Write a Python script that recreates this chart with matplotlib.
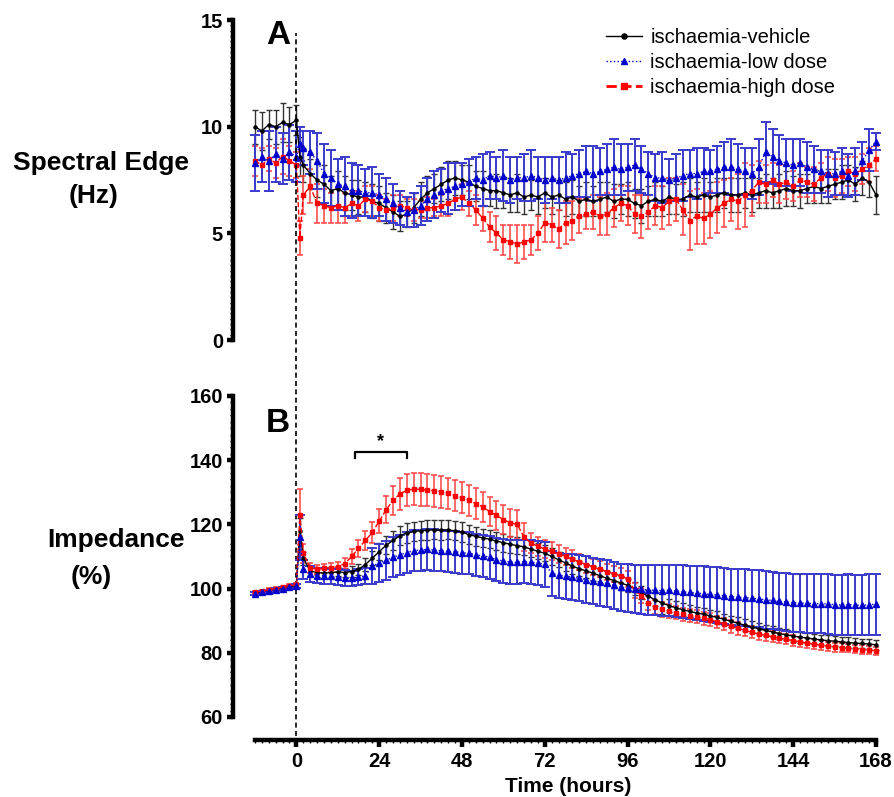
import numpy as np
import matplotlib
matplotlib.use("Agg")
import matplotlib.pyplot as plt
from matplotlib.lines import Line2D
from matplotlib.ticker import MultipleLocator

plt.rcParams["font.family"] = ["Liberation Sans", "DejaVu Sans"]

# ── data: hours relative to ischaemia, means and SEM ─────────────────────────
hours = list(range(-12, 1, 2)) + [1] + list(range(2, 169, 2))

labels = ["ischaemia-vehicle", "ischaemia-low dose", "ischaemia-high dose"]

# Panel A: spectral edge (Hz)
se_vehicle = [10.0, 9.8, 10.1, 10.0, 10.2, 10.1, 10.3,
              8.6,
              8.2, 7.8, 7.5, 7.3, 7.0, 7.1, 6.9, 6.8, 6.7, 6.7, 6.5, 6.4,
              6.2, 6.0, 5.8, 5.9, 6.2, 6.6, 6.9, 7.1, 7.3, 7.5, 7.6, 7.5,
              7.4, 7.2, 7.1, 7.0, 7.0, 6.9, 6.8, 6.9, 6.7, 6.8, 6.7, 6.9,
              6.7, 6.8, 6.6, 6.7, 6.5, 6.6, 6.5, 6.6, 6.7, 6.5, 6.6, 6.6,
              6.4, 6.3, 6.5, 6.6, 6.5, 6.7, 6.6, 6.6, 6.8, 6.7, 6.8, 6.7,
              6.8, 6.9, 6.8, 6.8, 6.9, 6.8, 6.9, 7.0, 6.9, 7.0, 7.1, 7.0,
              7.0, 7.1, 7.2, 7.1, 7.2, 7.3, 7.4, 7.5, 7.3, 7.6, 7.4, 6.8]
se_vehicle_err = [0.8, 0.9, 0.7, 0.8, 0.9, 0.8, 0.7,
                  0.9,
                  0.8, 0.7, 0.8, 0.9, 0.7, 0.8, 0.8, 0.7, 0.8, 0.7, 0.8, 0.8,
                  0.7, 0.8, 0.7, 0.6, 0.7, 0.8, 0.8, 0.7, 0.8, 0.9, 0.8, 0.7,
                  0.8, 0.7, 0.8, 0.7, 0.8, 0.7, 0.8, 0.9, 0.8, 0.7, 0.8, 0.7,
                  0.8, 0.7, 0.8, 0.8, 0.7, 0.8, 0.7, 0.8, 0.7, 0.8, 0.7, 0.8,
                  0.7, 0.8, 0.7, 0.8, 0.7, 0.8, 0.7, 0.8, 0.8, 0.7, 0.8, 0.7,
                  0.8, 0.7, 0.8, 0.8, 0.7, 0.8, 0.7, 0.8, 0.7, 0.8, 0.8, 0.7,
                  0.8, 0.7, 0.8, 0.7, 0.8, 0.7, 0.8, 0.7, 0.8, 0.8, 0.7, 0.9]

se_low = [8.3, 8.6, 8.4, 8.7, 8.5, 8.8, 8.6,
          9.2,
          9.0, 8.8, 8.4, 7.8, 7.6, 7.3, 7.2, 7.0, 7.0, 6.9, 6.9, 6.8,
          6.6, 6.4, 6.2, 6.0, 6.1, 6.3, 6.6, 6.8, 7.0, 7.1, 7.2, 7.3,
          7.4, 7.6, 7.5, 7.7, 7.6, 7.7, 7.5, 7.6, 7.6, 7.7, 7.6, 7.5,
          7.6, 7.5, 7.6, 7.7, 7.8, 7.9, 7.8, 7.9, 8.0, 8.1, 8.0, 8.1,
          8.2, 8.0, 7.8, 7.6, 7.6, 7.5, 7.6, 7.7, 7.8, 7.8, 7.9, 7.9,
          8.0, 8.1, 8.1, 8.0, 7.9, 7.8, 8.1, 8.8, 8.6, 8.4, 8.3, 8.2,
          8.3, 8.1, 8.0, 7.9, 7.8, 7.8, 7.9, 7.7, 7.9, 8.4, 8.9, 9.3]
se_low_err = [1.3, 1.2, 1.4, 1.3, 1.2, 1.3, 1.2,
              0.8,
              0.8, 1.0, 1.3, 1.4, 1.3, 1.2, 1.4, 1.3, 1.2, 1.1, 1.2, 1.0,
              1.0, 0.9, 0.8, 0.7, 0.8, 0.9, 1.0, 1.1, 1.0, 1.2, 1.1, 1.0,
              1.1, 1.0, 1.2, 1.1, 1.0, 1.2, 1.1, 1.0, 1.1, 1.2, 1.0, 1.1,
              1.0, 1.1, 1.2, 1.0, 1.1, 1.2, 1.3, 1.1, 1.2, 1.3, 1.2, 1.1,
              1.2, 1.1, 1.0, 1.1, 1.2, 1.0, 1.1, 1.2, 1.1, 1.2, 1.1, 1.0,
              1.1, 1.2, 1.3, 1.2, 1.1, 1.2, 1.3, 1.4, 1.3, 1.2, 1.1, 1.2,
              1.1, 1.2, 1.1, 1.0, 1.1, 1.0, 1.1, 1.0, 1.1, 0.9, 1.0, 0.4]

se_high = [8.4, 8.2, 8.5, 8.3, 8.6, 8.4, 8.2,
           4.8,
           6.8, 7.2, 6.4, 6.3, 6.2, 6.3, 6.2, 6.4, 6.3, 6.6, 6.5, 6.2,
           6.1, 6.2, 6.3, 6.2, 6.1, 6.1, 6.2, 6.2, 6.3, 6.4, 6.6, 6.7,
           6.4, 6.1, 5.7, 5.3, 5.0, 4.7, 4.6, 4.5, 4.6, 4.7, 5.0, 5.5,
           5.4, 5.2, 5.5, 5.6, 5.8, 5.9, 6.0, 5.8, 5.9, 6.2, 6.4, 6.3,
           5.9, 5.8, 6.0, 6.3, 6.2, 6.5, 6.6, 6.1, 5.6, 5.8, 5.7, 5.9,
           6.2, 6.4, 6.6, 6.5, 6.8, 7.0, 7.4, 7.3, 7.5, 7.3, 7.4, 7.2,
           7.5, 7.4, 7.3, 7.6, 7.8, 7.6, 7.7, 7.9, 7.8, 8.0, 8.2, 8.5]
se_high_err = [0.7, 0.8, 0.6, 0.7, 0.8, 0.7, 0.6,
               0.8,
               0.9, 0.8, 0.9, 0.8, 0.7, 0.8, 0.7, 0.6, 0.7, 0.6, 0.7, 0.6,
               0.5, 0.6, 0.5, 0.4, 0.5, 0.4, 0.5, 0.4, 0.5, 0.6, 0.5, 0.6,
               0.6, 0.7, 0.6, 0.7, 0.8, 0.7, 0.8, 0.9, 0.8, 0.7, 0.8, 0.9,
               0.8, 0.9, 1.0, 0.9, 0.8, 0.7, 0.8, 0.9, 1.0, 0.9, 0.8, 0.9,
               0.9, 1.0, 0.8, 0.9, 1.0, 1.1, 1.0, 1.2, 1.4, 1.3, 1.2, 1.1,
               1.2, 1.1, 1.0, 1.3, 1.5, 1.2, 1.0, 0.9, 0.8, 0.9, 0.8, 0.7,
               0.8, 0.7, 0.8, 0.7, 0.8, 0.9, 0.8, 0.7, 0.8, 0.7, 0.8, 0.6]

# Panel B: impedance (% of baseline)
imp_vehicle = [98.6, 99.0, 99.4, 99.8, 100.2, 100.6, 101.0,
               118.0,
               109.5, 105.5, 105.0, 104.8, 105.0, 105.2, 105.0, 105.3, 106.0, 107.5, 109.5, 111.5,
               113.5, 115.0, 116.5, 117.3, 117.8, 118.0, 118.2, 118.3, 118.2, 118.3, 118.0, 117.6,
               116.8, 116.3, 115.8, 115.4, 114.8, 114.3, 113.8, 113.4, 113.0, 112.3, 111.6, 111.0,
               110.0, 109.0, 108.0, 107.0, 106.2, 105.5, 104.8, 104.0, 103.2, 102.5, 101.8, 101.0,
               100.0, 98.8, 97.6, 96.5, 95.5, 94.7, 94.0, 93.4, 92.9, 92.4, 92.0, 91.5,
               91.0, 90.4, 89.8, 89.2, 88.6, 88.0, 87.5, 87.0, 86.5, 86.0, 85.6, 85.2,
               84.9, 84.6, 84.3, 84.0, 83.8, 83.6, 83.4, 83.2, 83.0, 82.9, 82.7, 82.5]
imp_vehicle_err = [0.4, 0.4, 0.4, 0.4, 0.4, 0.4, 0.4,
                   4.0,
                   2.0, 1.5, 1.5, 1.4, 1.5, 1.4, 1.5, 1.6, 1.8, 2.0, 2.3, 2.6,
                   2.8, 3.0, 3.0, 3.1, 3.0, 3.0, 3.1, 3.0, 3.1, 3.0, 3.0, 3.1,
                   3.0, 3.0, 2.9, 2.9, 2.8, 2.8, 2.7, 2.7, 2.6, 2.6, 2.5, 2.5,
                   2.5, 2.4, 2.4, 2.4, 2.3, 2.3, 2.3, 2.2, 2.2, 2.2, 2.2, 2.1,
                   2.1, 2.1, 2.0, 2.0, 3.5, 2.0, 2.0, 2.0, 1.9, 1.9, 1.9, 1.9,
                   1.9, 1.8, 1.8, 1.8, 1.8, 1.8, 1.7, 1.7, 1.7, 1.7, 1.7, 1.7,
                   1.7, 1.6, 1.6, 1.6, 1.6, 1.6, 1.6, 1.6, 1.5, 1.5, 1.5, 1.5]

imp_low = [98.4, 98.8, 99.2, 99.6, 100.0, 100.4, 100.8,
           116.0,
           106.0, 104.5, 104.0, 104.0, 103.8, 103.5, 103.3, 103.2, 103.5, 104.0, 107.0, 108.0,
           108.8, 109.8, 110.5, 111.2, 111.8, 112.0, 112.2, 112.0, 111.8, 111.6, 111.5, 111.2,
           111.0, 110.5, 110.2, 109.8, 109.0, 108.6, 108.3, 108.2, 108.4, 108.2, 108.0, 107.6,
           104.8, 104.2, 103.8, 103.6, 103.2, 102.8, 102.4, 102.0, 101.6, 101.0, 100.4, 100.2,
           100.0, 99.8, 99.6, 99.5, 99.4, 99.5, 99.3, 99.0, 98.8, 98.6, 98.4, 98.2,
           98.0, 97.8, 97.5, 97.3, 97.2, 97.0, 96.8, 96.5, 96.3, 96.0, 95.8, 95.6,
           95.5, 95.4, 95.3, 95.3, 95.2, 95.0, 94.9, 95.0, 94.9, 94.8, 95.0, 95.1]
imp_low_err = [0.5, 0.5, 0.5, 0.5, 0.5, 0.5, 0.5,
               7.0,
               3.0, 2.5, 2.4, 2.5, 2.4, 2.5, 2.5, 2.4, 2.5, 2.5, 5.5, 5.8,
               6.0, 6.2, 6.3, 6.3, 6.4, 6.4, 6.5, 6.5, 6.4, 6.4, 6.5, 6.5,
               6.5, 6.6, 6.6, 6.7, 6.7, 6.7, 6.8, 6.8, 6.8, 6.9, 6.9, 7.0,
               7.0, 7.0, 7.1, 7.1, 7.2, 7.2, 7.2, 7.3, 7.3, 7.3, 7.4, 7.4,
               7.5, 7.6, 7.7, 7.8, 7.9, 8.0, 8.1, 8.2, 8.3, 8.4, 8.5, 8.6,
               8.6, 8.7, 8.7, 8.8, 8.8, 8.9, 8.9, 9.0, 9.0, 9.0, 9.1, 9.1,
               9.1, 9.2, 9.2, 9.2, 9.3, 9.3, 9.3, 9.4, 9.4, 9.4, 9.5, 9.5]

imp_high = [98.8, 99.2, 99.6, 100.0, 100.4, 100.8, 101.2,
            123.0,
            111.0, 106.5, 106.0, 106.3, 106.5, 106.8, 107.8, 110.0, 112.5, 115.0, 117.5, 121.0,
            124.5, 127.5, 129.5, 130.6, 131.0, 130.9, 130.7, 130.5, 130.2, 129.7, 129.0, 128.3,
            127.5, 126.5, 125.5, 124.0, 122.8, 121.5, 120.5, 120.0, 116.0, 114.2, 113.2, 112.3,
            111.6, 110.8, 110.0, 109.2, 108.3, 107.5, 106.8, 106.0, 105.3, 104.6, 104.0, 103.0,
            99.5, 97.8, 95.5, 94.3, 93.5, 93.0, 92.5, 92.0, 91.6, 91.2, 90.8, 90.3,
            89.6, 88.9, 88.2, 87.6, 87.0, 86.4, 85.9, 85.4, 85.0, 84.6, 84.2, 83.8,
            83.4, 83.0, 82.7, 82.4, 82.1, 81.8, 81.6, 81.4, 81.2, 81.0, 80.8, 80.6]
imp_high_err = [0.5, 0.5, 0.5, 0.5, 0.5, 0.5, 0.5,
                8.0,
                3.0, 1.5, 1.3, 1.3, 1.4, 1.5, 1.8, 2.2, 2.6, 3.0, 3.4, 3.8,
                4.2, 4.6, 4.9, 5.0, 5.1, 5.1, 5.0, 5.0, 5.0, 4.9, 4.8, 4.8,
                4.8, 4.7, 4.6, 4.6, 4.5, 4.5, 4.4, 4.4, 4.3, 3.2, 3.0, 2.9,
                2.8, 2.8, 2.7, 2.7, 2.6, 2.6, 2.5, 2.5, 2.5, 2.4, 2.4, 2.4,
                2.3, 2.3, 2.3, 2.2, 2.2, 2.2, 2.1, 2.1, 2.1, 2.0, 2.0, 2.0,
                2.0, 1.9, 1.9, 1.9, 1.8, 1.8, 1.8, 1.7, 1.7, 1.7, 1.6, 1.6,
                1.6, 1.5, 1.5, 1.5, 1.4, 1.4, 1.4, 1.3, 1.3, 1.3, 1.2, 1.2]

# significance bracket (hours) for panel B
sig_span = [17, 32]

# ── styles: vehicle, low dose, high dose ─────────────────────────────────────
STYLES = [
    dict(color="black", ecolor="#333333", ls="-", marker="o", ms=2.2, cap=2.0, elw=1.0),
    dict(color="#0000cc", ecolor="#3a3acc", ls=":", marker="^", ms=5.0, cap=3.5, elw=1.4),
    dict(color="#ff0000", ecolor="#ff4040", ls="--", marker="s", ms=2.2, cap=2.0, elw=1.1),
]
DRAW_ORDER = [0, 2, 1]

W, H = 895, 797
fig = plt.figure(figsize=(W / 100, H / 100), dpi=100)

left, width = 255 / W, 621 / W
ax_a = fig.add_axes([left, 1 - 340 / H, width, 320 / H])
ax_b = fig.add_axes([left, 1 - 717 / H, width, 321 / H])


def draw(ax, series):
    for i in DRAW_ORDER:
        y, err = series[i]
        s = STYLES[i]
        ax.errorbar(hours, y, yerr=err, color=s["color"], ecolor=s["ecolor"],
                    ls=s["ls"], lw=1.0, marker=s["marker"], ms=s["ms"],
                    mec=s["color"], capsize=s["cap"], elinewidth=s["elw"],
                    capthick=s["elw"], clip_on=False)


draw(ax_a, [(se_vehicle, se_vehicle_err), (se_low, se_low_err), (se_high, se_high_err)])
draw(ax_b, [(imp_vehicle, imp_vehicle_err), (imp_low, imp_low_err), (imp_high, imp_high_err)])

# formatting (prism-like offset axes)
for ax in (ax_a, ax_b):
    ax.set_xlim(-12, 168)
    for side in ("top", "right"):
        ax.spines[side].set_visible(False)
    ax.spines["left"].set_position(("outward", 16))
    ax.spines["left"].set_linewidth(3.2)
    ax.tick_params(axis="y", which="major", length=4, width=3.2, labelsize=14.5, pad=3)
    ax.tick_params(axis="y", which="minor", length=2.5, width=1.0)

ax_a.set_ylim(0, 15)
ax_a.yaxis.set_major_locator(MultipleLocator(5))
ax_a.yaxis.set_minor_locator(MultipleLocator(0.25))
ax_a.spines["bottom"].set_visible(False)
ax_a.tick_params(axis="x", which="both", bottom=False, labelbottom=False)

ax_b.set_ylim(60, 160)
ax_b.yaxis.set_major_locator(MultipleLocator(20))
ax_b.yaxis.set_minor_locator(MultipleLocator(2))
ax_b.set_xticks(range(0, 169, 24))
ax_b.xaxis.set_minor_locator(MultipleLocator(2))
ax_b.spines["bottom"].set_position(("outward", 16.5))
ax_b.spines["bottom"].set_linewidth(3.2)
ax_b.tick_params(axis="x", which="major", length=5, width=3.2, labelsize=14.5, pad=4)
ax_b.tick_params(axis="x", which="minor", length=2.5, width=1.0)
for ax in (ax_a, ax_b):
    for lbl in ax.get_yticklabels() + ax.get_xticklabels():
        lbl.set_fontweight("bold")

# ischaemia onset
ax_b.axvline(0, ymin=-0.06, ymax=2.13, color="black", lw=1.2, ls=(0, (3, 2)),
             clip_on=False, zorder=0)

# significance bracket
ax_b.plot([sig_span[0], sig_span[0], sig_span[1], sig_span[1]],
          [140.8, 142.6, 142.6, 140.8], color="black", lw=1.6)
ax_b.text(np.mean(sig_span), 143.3, "*", ha="center", va="bottom",
          fontsize=13, fontweight="bold")

# panel letters and axis titles
fig.text(278 / W, 1 - 35 / H, "A", ha="center", va="center", fontsize=24, fontweight="bold")
fig.text(278 / W, 1 - 424 / H, "B", ha="center", va="center", fontsize=24, fontweight="bold")
fig.text(101 / W, 1 - 163 / H, "Spectral Edge", ha="center", va="center",
         fontsize=19, fontweight="bold")
fig.text(94 / W, 1 - 196 / H, "(Hz)", ha="center", va="center",
         fontsize=19, fontweight="bold")
fig.text(116 / W, 1 - 540 / H, "Impedance", ha="center", va="center",
         fontsize=19, fontweight="bold")
fig.text(91 / W, 1 - 577 / H, "(%)", ha="center", va="center",
         fontsize=19, fontweight="bold")
fig.text(568 / W, 1 - 787 / H, "Time (hours)", ha="center", va="center",
         fontsize=15, fontweight="bold")

handles = [Line2D([], [], color=STYLES[i]["color"], ls=STYLES[i]["ls"],
                  lw=2.0 if i == 2 else 1.0, marker=STYLES[i]["marker"],
                  ms=STYLES[i]["ms"] + (1.5 if i != 1 else 0))
           for i in range(3)]
fig.legend(handles, labels, loc="upper left", bbox_to_anchor=(598 / W, 1 - 20 / H),
           frameon=False, fontsize=14.5, handlelength=1.8, handletextpad=0.4,
           labelspacing=0.3, borderaxespad=0)

fig.savefig("out.png", dpi=100)
